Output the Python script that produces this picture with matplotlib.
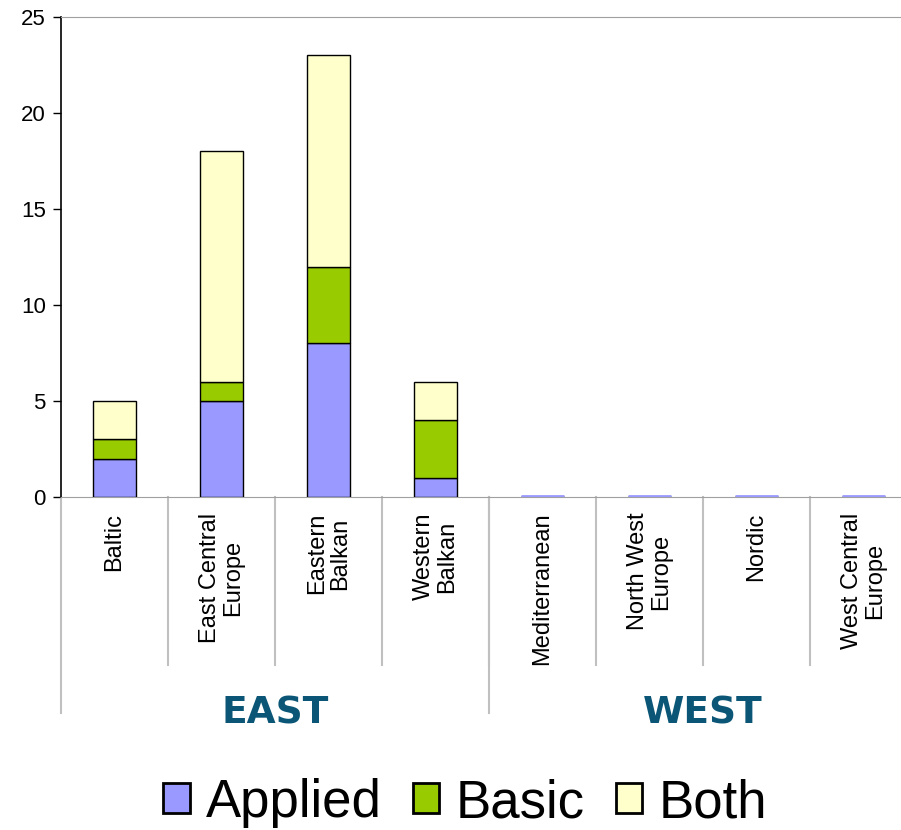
import numpy as np
import matplotlib.pyplot as plt
from matplotlib.patches import Patch

plt.rcParams['font.family'] = ['Liberation Sans', 'DejaVu Sans']

# Data
regions = ["Baltic", "East Central\nEurope", "Eastern\nBalkan", "Western\nBalkan",
           "Mediterranean", "North West\nEurope", "Nordic", "West Central\nEurope"]
groups = ["EAST", "WEST"]
group_sizes = [4, 4]
applied = [2, 5, 8, 1, 0, 0, 0, 0]
basic = [1, 1, 4, 3, 0, 0, 0, 0]
both = [2, 12, 11, 2, 0, 0, 0, 0]

c_applied = "#9999ff"
c_basic = "#99cc00"
c_both = "#ffffcc"
grey = "#c0c0c0"

fig = plt.figure(figsize=(9.01, 8.30), dpi=100)
ax = fig.add_axes([61/901, 333/830, 856/901, 480/830])

x = np.arange(len(regions))
w = 0.4
applied = np.array(applied)
basic = np.array(basic)
both = np.array(both)

ax.bar(x, applied, w, color=c_applied, edgecolor="black", linewidth=1, zorder=3)
ax.bar(x, basic, w, bottom=applied, color=c_basic, edgecolor="black", linewidth=1, zorder=3)
ax.bar(x, both, w, bottom=applied + basic, color=c_both, edgecolor="black", linewidth=1, zorder=3)
# empty categories show a thin line at zero
tot = applied + basic + both
zx = x[tot == 0]
ax.hlines(np.full(len(zx), 0.07), zx - w/2, zx + w/2, color=c_applied, lw=2, zorder=4)

ax.set_xlim(-0.5, len(regions) - 0.5)
ax.set_ylim(0, 25)
ax.set_yticks([0, 5, 10, 15, 20, 25])
ax.tick_params(axis='y', direction='out', length=6, width=1, labelsize=16, pad=5)
ax.set_xticks([])

ax.spines['left'].set_color('black')
ax.spines['left'].set_linewidth(1.2)
ax.spines['top'].set_color('#a0a0a0')
ax.spines['bottom'].set_color('#a0a0a0')
ax.spines['right'].set_visible(False)

trans = ax.get_xaxis_transform()
# category separators and labels
for i, lab in enumerate(regions):
    ax.text(i, -0.033, lab, transform=trans, rotation=90, ha='center', va='top',
            multialignment='center', fontsize=17, linespacing=1.1)
for i in range(1, len(regions)):
    ax.plot([i - 0.5, i - 0.5], [0, -0.35], transform=trans, color=grey, lw=1.5,
            clip_on=False)

# group separators and labels
start = 0
edges = [start]
for g, n in zip(groups, group_sizes):
    ax.text(start + (n - 1) / 2, -0.45, g, transform=trans, ha='center', va='center',
            fontsize=27, fontweight='bold', color='#0b5676', family='DejaVu Sans')
    start += n
    edges.append(start)
for e in edges:
    ax.plot([e - 0.5, e - 0.5], [0, -0.45], transform=trans, color=grey, lw=1.5,
            clip_on=False)

handles = [Patch(facecolor=c, edgecolor='black', linewidth=2) for c in (c_applied, c_basic, c_both)]
fig.legend(handles, ["Applied", "Basic", "Both"], loc='center', bbox_to_anchor=(465/901, 27/830),
           ncol=3, frameon=False, fontsize=38, handlelength=0.5, handleheight=0.5,
           handletextpad=0.3, columnspacing=0.6, borderaxespad=0)

fig.savefig("out.png", dpi=100)
